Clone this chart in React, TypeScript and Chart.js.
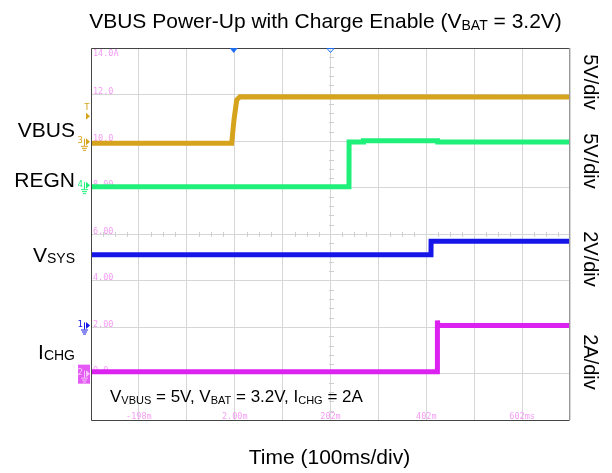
import React, { useEffect, useRef } from "react";
import { Chart, registerables } from "chart.js";
Chart.register(...registerables);

// ---- data (time in ms, signal in V / A) ----
const vbusTime = [-298, -4.3, 0.5, 6.2, 13, 702];
const vbusVolts = [0, 0, 2.5, 4.66, 5.0, 4.98];
const regnTime = [-298, 240.6, 240.8, 270.5, 270.7, 425.8, 426, 702];
const regnVolts = [0, 0, 4.8, 4.8, 4.95, 4.95, 4.8, 4.8];
const vsysTime = [-298, 411.8, 412, 702];
const vsysVolts = [3.11, 3.11, 3.69, 3.69];
const ichgTime = [-298, 425, 425.2, 426.5, 702];
const ichgAmps = [0, 0, 2.2, 1.98, 1.98];

// ---- tick labels ----
const gridTimes = [-298, -198, -98, 2, 102, 202, 302, 402, 502, 602, 702];
const timeTicks = [-198, 2, 202, 402, 602];
const timeTickLabels = ["-198m", "2.00m", "202m", "402m", "602ms"];
const divTicks = [1, 2, 3, 4, 5, 6, 7, 8];
const divTickLabels = ["0.0", "2.00", "4.00", "6.00", "8.00", "10.0", "12.0", "14.0A"];
const voltsPerDiv = ["5V/div", "5V/div", "2V/div", "2A/div"];
const channelMain = ["VBUS", "REGN", "V", "I"];
const channelSub = ["", "", "SYS", "CHG"];
const channelNumbers = ["3", "4", "1", "2"];
const triggerTime = 0;
const delayTime = 202;
const triggerLevel = 2.9;

const COLORS = ["#d6a31c", "#1ff07a", "#1616e8", "#dc22f0"];
const FONT = '"Liberation Sans", Arial, sans-serif';
const MONO = '"DejaVu Sans Mono", monospace';

type Part = { t: string; sub?: boolean };

function richWidth(ctx: CanvasRenderingContext2D, parts: Part[], size: number, subSize: number) {
  let w = 0;
  for (const p of parts) {
    ctx.font = `${p.sub ? subSize : size}px ${FONT}`;
    w += ctx.measureText(p.t).width;
  }
  return w;
}

function drawRich(
  ctx: CanvasRenderingContext2D,
  parts: Part[],
  x: number,
  y: number,
  align: "left" | "center" | "right",
  size: number,
  subSize: number,
  subDrop: number
) {
  const w = richWidth(ctx, parts, size, subSize);
  let cx = align === "left" ? x : align === "center" ? x - w / 2 : x - w;
  ctx.textAlign = "left";
  ctx.textBaseline = "alphabetic";
  for (const p of parts) {
    ctx.font = `${p.sub ? subSize : size}px ${FONT}`;
    ctx.fillText(p.t, cx, p.sub ? y + subDrop : y);
    cx += ctx.measureText(p.t).width;
  }
}

function chMarker(ctx: CanvasRenderingContext2D, x: number, y: number, label: string, color: string, boxed: boolean) {
  ctx.save();
  if (boxed) {
    ctx.fillStyle = color;
    ctx.globalAlpha = 0.75;
    ctx.fillRect(x - 12, y - 9, 12, 19);
    ctx.globalAlpha = 1;
  }
  const fg = boxed ? "#f6c8fa" : color;
  ctx.fillStyle = fg;
  ctx.strokeStyle = fg;
  ctx.font = `9px ${MONO}`;
  ctx.textAlign = "right";
  ctx.textBaseline = "middle";
  ctx.fillText(label, x - 7, y - 1);
  ctx.beginPath();
  ctx.moveTo(x - 4, y - 3.5);
  ctx.lineTo(x, y);
  ctx.lineTo(x - 4, y + 3.5);
  ctx.closePath();
  ctx.fill();
  ctx.lineWidth = 1;
  ctx.beginPath();
  ctx.moveTo(x - 5.5, y - 3);
  ctx.lineTo(x - 5.5, y + 4);
  ctx.moveTo(x - 9, y + 4.5);
  ctx.lineTo(x - 2, y + 4.5);
  ctx.moveTo(x - 8, y + 6.5);
  ctx.lineTo(x - 3, y + 6.5);
  ctx.moveTo(x - 7, y + 8.5);
  ctx.lineTo(x - 4, y + 8.5);
  ctx.stroke();
  ctx.restore();
}

const decor = {
  id: "decor",
  beforeDatasetsDraw(chart: any) {
    const { ctx, chartArea: a, scales } = chart;
    const xs = scales.x;
    const yg = scales.yg;
    ctx.save();
    ctx.strokeStyle = "#cfcfcf";
    ctx.lineWidth = 1;
    const cy = Math.round(yg.getPixelForValue(4)) + 0.5;
    const cx = Math.round(xs.getPixelForValue(delayTime)) + 0.5;
    ctx.beginPath();
    for (let i = 0; i < gridTimes.length - 1; i++) {
      for (let k = 1; k < 4; k++) {
        const px = Math.round(xs.getPixelForValue(gridTimes[i] + (k * 100) / 4)) + 0.5;
        ctx.moveTo(px, cy - 2.5);
        ctx.lineTo(px, cy + 2.5);
      }
    }
    for (let d = 0; d < 8; d++) {
      for (let k = 1; k < 5; k++) {
        const py = Math.round(yg.getPixelForValue(d + k / 5)) + 0.5;
        ctx.moveTo(cx - 2.5, py);
        ctx.lineTo(cx + 2.5, py);
      }
    }
    ctx.stroke();

    ctx.fillStyle = "#f59cf5";
    ctx.font = `8.5px ${MONO}`;
    ctx.textAlign = "left";
    divTicks.forEach((d, i) => {
      const py = yg.getPixelForValue(d);
      if (d === 8) {
        ctx.textBaseline = "top";
        ctx.fillText(divTickLabels[i], a.left + 2, py + 2);
      } else {
        ctx.textBaseline = "bottom";
        ctx.fillText(divTickLabels[i], a.left + 2, py + 2);
      }
    });
    ctx.textAlign = "center";
    ctx.textBaseline = "bottom";
    timeTicks.forEach((t, i) => {
      ctx.fillText(timeTickLabels[i], xs.getPixelForValue(t), a.bottom + 1.5);
    });
    ctx.restore();
  },
  afterDatasetsDraw(chart: any) {
    const { ctx, chartArea: a, scales } = chart;
    const xs = scales.x;
    ctx.save();
    ctx.lineWidth = 1;
    ctx.strokeStyle = "#444";
    ctx.beginPath();
    ctx.moveTo(a.left + 0.5, a.bottom + 0.5);
    ctx.lineTo(a.left + 0.5, a.top + 0.5);
    ctx.lineTo(a.right - 0.5, a.top + 0.5);
    ctx.moveTo(a.left + 0.5, a.bottom + 0.5);
    ctx.lineTo(a.right, a.bottom + 0.5);
    ctx.stroke();
    ctx.strokeStyle = "#999";
    ctx.beginPath();
    ctx.moveTo(a.right - 0.5, a.top);
    ctx.lineTo(a.right - 0.5, a.bottom + 1);
    ctx.stroke();

    const tx = xs.getPixelForValue(triggerTime);
    ctx.fillStyle = "#1e6cf0";
    ctx.beginPath();
    ctx.moveTo(tx - 4, a.top);
    ctx.lineTo(tx + 4, a.top);
    ctx.lineTo(tx, a.top + 5);
    ctx.closePath();
    ctx.fill();
    const dx = xs.getPixelForValue(delayTime);
    ctx.strokeStyle = "#1e6cf0";
    ctx.beginPath();
    ctx.moveTo(dx - 3.5, a.top + 0.5);
    ctx.lineTo(dx + 3.5, a.top + 0.5);
    ctx.lineTo(dx, a.top + 4.5);
    ctx.closePath();
    ctx.stroke();

    const axes = ["yVbus", "yRegn", "yVsys", "yIchg"];
    const mx = a.left - 1;
    axes.forEach((id, i) => {
      const py = scales[id].getPixelForValue(0) + (i === 3 ? 2 : -1.5);
      chMarker(ctx, mx, py, channelNumbers[i], COLORS[i], i === 3);
    });
    const ty = scales.yVbus.getPixelForValue(triggerLevel);
    ctx.fillStyle = COLORS[0];
    ctx.beginPath();
    ctx.moveTo(mx - 4, ty - 3.5);
    ctx.lineTo(mx, ty);
    ctx.lineTo(mx - 4, ty + 3.5);
    ctx.closePath();
    ctx.fill();
    ctx.font = `9px ${MONO}`;
    ctx.textAlign = "center";
    ctx.textBaseline = "bottom";
    ctx.fillText("T", mx - 3, ty - 4);

    ctx.fillStyle = "#000";
    const W = chart.width;
    drawRich(
      ctx,
      [{ t: "VBUS Power-Up with Charge Enable (V" }, { t: "BAT", sub: true }, { t: " = 3.2V)" }],
      (a.left + a.right) / 2 - 5,
      28,
      "center",
      21,
      14,
      2
    );
    drawRich(ctx, [{ t: "Time (100ms/div)" }], (a.left + a.right) / 2 - 1, 464, "center", 21, 14, 2);
    drawRich(
      ctx,
      [
        { t: "V" },
        { t: "VBUS", sub: true },
        { t: " = 5V, V" },
        { t: "BAT", sub: true },
        { t: " = 3.2V, I" },
        { t: "CHG", sub: true },
        { t: " = 2A" },
      ],
      a.left + 19,
      401.5,
      "left",
      17,
      11,
      2
    );
    const labelBase = [137.3, 187.3, 261.7, 359];
    channelMain.forEach((m, i) => {
      const parts: Part[] = [{ t: m }];
      if (channelSub[i]) parts.push({ t: channelSub[i], sub: true });
      drawRich(ctx, parts, 75, labelBase[i], "right", 21, 14, 1);
    });
    const rightCenters = [82, 161, 259, 362];
    voltsPerDiv.forEach((s, i) => {
      ctx.save();
      ctx.translate(W - 22, rightCenters[i]);
      ctx.rotate(Math.PI / 2);
      ctx.font = `20px ${FONT}`;
      ctx.textAlign = "center";
      ctx.textBaseline = "middle";
      ctx.fillText(s, 0, 0);
      ctx.restore();
    });
    ctx.restore();
  },
};

function pts(t: number[], v: number[]) {
  return t.map((x, i) => ({ x, y: v[i] }));
}

export default function App() {
  const ref = useRef<HTMLCanvasElement>(null);
  useEffect(() => {
    if (!ref.current) return;
    const mk = (label: string, t: number[], v: number[], color: string, axis: string) => ({
      label,
      data: pts(t, v),
      borderColor: color,
      backgroundColor: color,
      borderWidth: 5,
      pointRadius: 0,
      tension: 0,
      yAxisID: axis,
    });
    const chart = new Chart(ref.current, {
      type: "line",
      data: {
        datasets: [
          mk("VBUS", vbusTime, vbusVolts, COLORS[0], "yVbus"),
          mk("REGN", regnTime, regnVolts, COLORS[1], "yRegn"),
          mk("VSYS", vsysTime, vsysVolts, COLORS[2], "yVsys"),
          mk("ICHG", ichgTime, ichgAmps, COLORS[3], "yIchg"),
        ],
      },
      options: {
        animation: false,
        responsive: true,
        maintainAspectRatio: false,
        events: [],
        layout: { padding: { left: 91, top: 48, right: 42, bottom: 53 } },
        plugins: { legend: { display: false }, tooltip: { enabled: false } },
        scales: {
          x: {
            type: "linear",
            min: -298,
            max: 702,
            afterBuildTicks: (s: any) => {
              s.ticks = gridTimes.map((v) => ({ value: v }));
            },
            ticks: { display: false },
            grid: { color: "#d6d6d6", drawTicks: false },
            border: { display: false },
          },
          yg: {
            type: "linear",
            position: "left",
            min: 0,
            max: 8,
            ticks: { display: false, stepSize: 1 },
            grid: { color: "#d6d6d6", drawTicks: false },
            border: { display: false },
          },
          yVbus: { type: "linear", display: false, min: -29.75, max: 10.25 },
          yRegn: { type: "linear", display: false, min: -25.09, max: 14.91 },
          yVsys: { type: "linear", display: false, min: -4, max: 12 },
          yIchg: { type: "linear", display: false, min: -2.08, max: 13.92 },
        },
      } as any,
      plugins: [decor],
    });
    return () => chart.destroy();
  }, []);
  return (
    <div style={{ position: "fixed", left: 0, top: 0, width: 612, height: 473, background: "#fff" }}>
      <canvas ref={ref} />
    </div>
  );
}
